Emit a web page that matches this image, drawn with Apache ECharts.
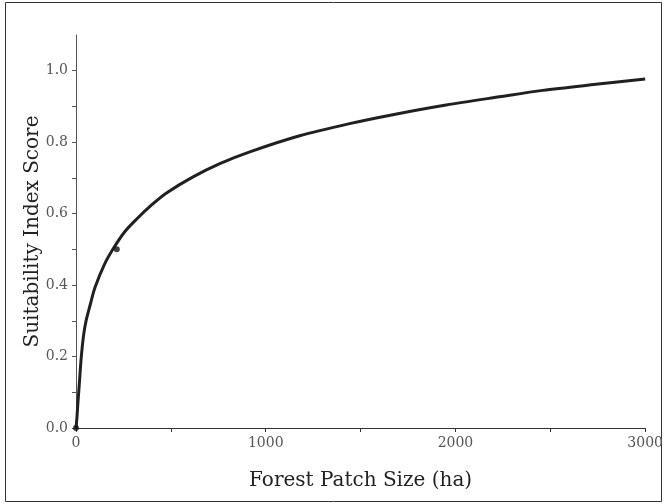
<!DOCTYPE html>
<html>
<head>
<meta charset="utf-8">
<script src="https://cdn.jsdelivr.net/npm/echarts@6/dist/echarts.min.js"></script>
<style>
  html, body { margin: 0; padding: 0; background: #fff; }
  #chart { width: 666px; height: 504px; }
</style>
</head>
<body>
<div id="chart"></div>
<script>
// Suitability response curve for forest patch size
const patchSize = [0, 5, 10, 17, 28, 40, 53, 75, 100, 150, 200, 258, 320, 400, 477, 617, 758, 916, 1179, 1442, 1670, 1951, 2232, 2460, 2740, 3000];
const suitability = [0, 0.03, 0.07, 0.12, 0.2, 0.26, 0.3, 0.345, 0.393, 0.458, 0.505, 0.55, 0.585, 0.625, 0.658, 0.703, 0.74, 0.773, 0.818, 0.852, 0.877, 0.904, 0.927, 0.945, 0.962, 0.977];

// Observed points
const obsSize = [0, 215];
const obsScore = [0, 0.5];

// Axis ticks and labels
const xTicks = [0, 500, 1000, 1500, 2000, 2500, 3000];
const xLabels = [0, 1000, 2000, 3000];
const yTicks = [0, 0.1, 0.2, 0.3, 0.4, 0.5, 0.6, 0.7, 0.8, 0.9, 1.0];
const yLabels = [0, 0.2, 0.4, 0.6, 0.8, 1.0];

const font = '"DejaVu Serif", "Liberation Serif", serif';
const chart = echarts.init(document.getElementById('chart'));

chart.setOption({
  backgroundColor: '#fff',
  animation: false,
  graphic: [{
    type: 'rect',
    shape: { x: 5.5, y: 2.5, width: 656, height: 499 },
    style: { fill: 'none', stroke: '#333', lineWidth: 1 },
    silent: true
  }],
  grid: { left: 76, right: 20, top: 35, bottom: 76 },
  xAxis: {
    type: 'value',
    min: 0, max: 3000,
    name: 'Forest Patch Size (ha)',
    nameLocation: 'middle',
    nameGap: 43,
    nameMoveOverlap: false,
    nameTextStyle: { fontFamily: font, fontSize: 20, color: '#222' },
    axisLine: { show: true, onZero: false, lineStyle: { color: '#333', width: 1.2 } },
    axisTick: { show: true, length: 4, customValues: xTicks, lineStyle: { color: '#333' } },
    axisLabel: {
      customValues: xLabels, fontFamily: font, fontSize: 14, color: '#555', margin: 8,
      formatter: v => String(v)
    },
    splitLine: { show: false }
  },
  yAxis: {
    type: 'value',
    min: 0, max: 1.1,
    name: 'Suitability Index Score',
    nameLocation: 'middle',
    nameGap: 33,
    nameMoveOverlap: false,
    nameTextStyle: { fontFamily: font, fontSize: 20, color: '#222' },
    axisLine: { show: true, onZero: false, lineStyle: { color: '#555', width: 1 } },
    axisTick: { show: true, length: 4, customValues: yTicks, lineStyle: { color: '#555' } },
    axisLabel: {
      customValues: yLabels, fontFamily: font, fontSize: 14, color: '#555', margin: 8,
      formatter: v => v.toFixed(1)
    },
    splitLine: { show: false }
  },
  series: [
    {
      type: 'line',
      data: patchSize.map((x, i) => [x, suitability[i]]),
      smooth: 0.3,
      showSymbol: false,
      lineStyle: { color: '#231f20', width: 3 },
      z: 3
    },
    {
      type: 'scatter',
      data: obsSize.map((x, i) => [x, obsScore[i]]),
      symbol: 'circle',
      symbolSize: 6,
      itemStyle: { color: '#111' },
      z: 4
    }
  ]
});
</script>
</body>
</html>
